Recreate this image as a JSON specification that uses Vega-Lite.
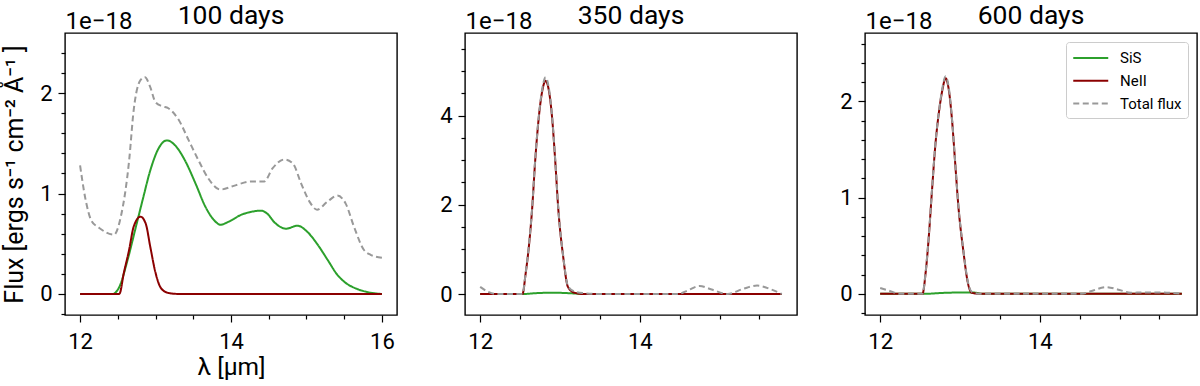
{
  "$schema": "https://vega.github.io/schema/vega-lite/v6.json",
  "background": "white",
  "padding": {"left": 1, "top": 1, "right": 0, "bottom": 0},
  "config": {
    "font": "Roboto",
    "view": {"stroke": "black", "strokeWidth": 1.4},
    "axis": {
      "labelFont": "Roboto", "labelFontSize": 22, "labelColor": "black",
      "titleFont": "Roboto", "titleFontSize": 24.5, "titleFontWeight": "normal", "titleColor": "black",
      "domain": false, "grid": false, "tickColor": "black", "tickWidth": 1.2,
      "labelFlush": false, "labelOverlap": false
    },
    "title": {"font": "Roboto", "fontSize": 26.5, "fontWeight": "normal", "color": "black"}
  },
  "datasets": {
    "spec": [
      {"panel": "100", "series": "SiS", "wl": 12, "flux": 0},
      {"panel": "100", "series": "SiS", "wl": 12.2, "flux": 0},
      {"panel": "100", "series": "SiS", "wl": 12.43, "flux": 0},
      {"panel": "100", "series": "SiS", "wl": 12.52, "flux": 0.07},
      {"panel": "100", "series": "SiS", "wl": 12.63, "flux": 0.34},
      {"panel": "100", "series": "SiS", "wl": 12.74, "flux": 0.67},
      {"panel": "100", "series": "SiS", "wl": 12.83, "flux": 0.94},
      {"panel": "100", "series": "SiS", "wl": 12.93, "flux": 1.23},
      {"panel": "100", "series": "SiS", "wl": 13.04, "flux": 1.45},
      {"panel": "100", "series": "SiS", "wl": 13.15, "flux": 1.53},
      {"panel": "100", "series": "SiS", "wl": 13.26, "flux": 1.48},
      {"panel": "100", "series": "SiS", "wl": 13.39, "flux": 1.33},
      {"panel": "100", "series": "SiS", "wl": 13.53, "flux": 1.10},
      {"panel": "100", "series": "SiS", "wl": 13.66, "flux": 0.87},
      {"panel": "100", "series": "SiS", "wl": 13.77, "flux": 0.74},
      {"panel": "100", "series": "SiS", "wl": 13.86, "flux": 0.69},
      {"panel": "100", "series": "SiS", "wl": 13.97, "flux": 0.72},
      {"panel": "100", "series": "SiS", "wl": 14.14, "flux": 0.79},
      {"panel": "100", "series": "SiS", "wl": 14.28, "flux": 0.82},
      {"panel": "100", "series": "SiS", "wl": 14.4, "flux": 0.83},
      {"panel": "100", "series": "SiS", "wl": 14.48, "flux": 0.80},
      {"panel": "100", "series": "SiS", "wl": 14.58, "flux": 0.71},
      {"panel": "100", "series": "SiS", "wl": 14.73, "flux": 0.65},
      {"panel": "100", "series": "SiS", "wl": 14.88, "flux": 0.68},
      {"panel": "100", "series": "SiS", "wl": 15.01, "flux": 0.62},
      {"panel": "100", "series": "SiS", "wl": 15.14, "flux": 0.50},
      {"panel": "100", "series": "SiS", "wl": 15.28, "flux": 0.34},
      {"panel": "100", "series": "SiS", "wl": 15.41, "flux": 0.19},
      {"panel": "100", "series": "SiS", "wl": 15.52, "flux": 0.11},
      {"panel": "100", "series": "SiS", "wl": 15.67, "flux": 0.05},
      {"panel": "100", "series": "SiS", "wl": 15.8, "flux": 0.02},
      {"panel": "100", "series": "SiS", "wl": 16, "flux": 0},

      {"panel": "100", "series": "NeII", "wl": 12, "flux": 0},
      {"panel": "100", "series": "NeII", "wl": 12.52, "flux": 0},
      {"panel": "100", "series": "NeII", "wl": 12.58, "flux": 0.21},
      {"panel": "100", "series": "NeII", "wl": 12.65, "flux": 0.44},
      {"panel": "100", "series": "NeII", "wl": 12.71, "flux": 0.67},
      {"panel": "100", "series": "NeII", "wl": 12.8, "flux": 0.77},
      {"panel": "100", "series": "NeII", "wl": 12.87, "flux": 0.70},
      {"panel": "100", "series": "NeII", "wl": 12.93, "flux": 0.47},
      {"panel": "100", "series": "NeII", "wl": 13, "flux": 0.21},
      {"panel": "100", "series": "NeII", "wl": 13.07, "flux": 0.06},
      {"panel": "100", "series": "NeII", "wl": 13.17, "flux": 0.01},
      {"panel": "100", "series": "NeII", "wl": 13.3, "flux": 0},
      {"panel": "100", "series": "NeII", "wl": 16, "flux": 0},

      {"panel": "100", "series": "Total flux", "wl": 12, "flux": 1.28},
      {"panel": "100", "series": "Total flux", "wl": 12.07, "flux": 0.95},
      {"panel": "100", "series": "Total flux", "wl": 12.15, "flux": 0.73},
      {"panel": "100", "series": "Total flux", "wl": 12.25, "flux": 0.66},
      {"panel": "100", "series": "Total flux", "wl": 12.45, "flux": 0.59},
      {"panel": "100", "series": "Total flux", "wl": 12.54, "flux": 0.77},
      {"panel": "100", "series": "Total flux", "wl": 12.65, "flux": 1.33},
      {"panel": "100", "series": "Total flux", "wl": 12.71, "flux": 1.83},
      {"panel": "100", "series": "Total flux", "wl": 12.8, "flux": 2.13},
      {"panel": "100", "series": "Total flux", "wl": 12.86, "flux": 2.16},
      {"panel": "100", "series": "Total flux", "wl": 12.93, "flux": 2.06},
      {"panel": "100", "series": "Total flux", "wl": 13, "flux": 1.91},
      {"panel": "100", "series": "Total flux", "wl": 13.09, "flux": 1.87},
      {"panel": "100", "series": "Total flux", "wl": 13.17, "flux": 1.85},
      {"panel": "100", "series": "Total flux", "wl": 13.31, "flux": 1.73},
      {"panel": "100", "series": "Total flux", "wl": 13.44, "flux": 1.53},
      {"panel": "100", "series": "Total flux", "wl": 13.57, "flux": 1.33},
      {"panel": "100", "series": "Total flux", "wl": 13.7, "flux": 1.15},
      {"panel": "100", "series": "Total flux", "wl": 13.86, "flux": 1.04},
      {"panel": "100", "series": "Total flux", "wl": 14.01, "flux": 1.07},
      {"panel": "100", "series": "Total flux", "wl": 14.09, "flux": 1.09},
      {"panel": "100", "series": "Total flux", "wl": 14.27, "flux": 1.12},
      {"panel": "100", "series": "Total flux", "wl": 14.44, "flux": 1.12},
      {"panel": "100", "series": "Total flux", "wl": 14.55, "flux": 1.25},
      {"panel": "100", "series": "Total flux", "wl": 14.71, "flux": 1.34},
      {"panel": "100", "series": "Total flux", "wl": 14.82, "flux": 1.30},
      {"panel": "100", "series": "Total flux", "wl": 14.93, "flux": 1.10},
      {"panel": "100", "series": "Total flux", "wl": 15.04, "flux": 0.92},
      {"panel": "100", "series": "Total flux", "wl": 15.14, "flux": 0.84},
      {"panel": "100", "series": "Total flux", "wl": 15.28, "flux": 0.92},
      {"panel": "100", "series": "Total flux", "wl": 15.41, "flux": 0.98},
      {"panel": "100", "series": "Total flux", "wl": 15.52, "flux": 0.90},
      {"panel": "100", "series": "Total flux", "wl": 15.63, "flux": 0.67},
      {"panel": "100", "series": "Total flux", "wl": 15.76, "flux": 0.44},
      {"panel": "100", "series": "Total flux", "wl": 15.85, "flux": 0.39},
      {"panel": "100", "series": "Total flux", "wl": 16, "flux": 0.36},

      {"panel": "350", "series": "SiS", "wl": 12, "flux": 0},
      {"panel": "350", "series": "SiS", "wl": 12.53, "flux": 0},
      {"panel": "350", "series": "SiS", "wl": 12.7, "flux": 0.02},
      {"panel": "350", "series": "SiS", "wl": 12.9, "flux": 0.03},
      {"panel": "350", "series": "SiS", "wl": 13.1, "flux": 0.02},
      {"panel": "350", "series": "SiS", "wl": 13.25, "flux": 0.005},
      {"panel": "350", "series": "SiS", "wl": 13.4, "flux": 0},
      {"panel": "350", "series": "SiS", "wl": 15.78, "flux": 0},

      {"panel": "350", "series": "NeII", "wl": 12, "flux": 0},
      {"panel": "350", "series": "NeII", "wl": 12.53, "flux": 0},
      {"panel": "350", "series": "NeII", "wl": 12.57, "flux": 0.46},
      {"panel": "350", "series": "NeII", "wl": 12.61, "flux": 1.06},
      {"panel": "350", "series": "NeII", "wl": 12.65, "flux": 1.88},
      {"panel": "350", "series": "NeII", "wl": 12.69, "flux": 3.0},
      {"panel": "350", "series": "NeII", "wl": 12.74, "flux": 4.05},
      {"panel": "350", "series": "NeII", "wl": 12.78, "flux": 4.57},
      {"panel": "350", "series": "NeII", "wl": 12.82, "flux": 4.78},
      {"panel": "350", "series": "NeII", "wl": 12.86, "flux": 4.57},
      {"panel": "350", "series": "NeII", "wl": 12.9, "flux": 3.98},
      {"panel": "350", "series": "NeII", "wl": 12.94, "flux": 3.0},
      {"panel": "350", "series": "NeII", "wl": 12.98, "flux": 1.88},
      {"panel": "350", "series": "NeII", "wl": 13.04, "flux": 0.84},
      {"panel": "350", "series": "NeII", "wl": 13.1, "flux": 0.16},
      {"panel": "350", "series": "NeII", "wl": 13.18, "flux": 0.03},
      {"panel": "350", "series": "NeII", "wl": 13.3, "flux": 0},
      {"panel": "350", "series": "NeII", "wl": 15.78, "flux": 0},

      {"panel": "350", "series": "Total flux", "wl": 12, "flux": 0.16},
      {"panel": "350", "series": "Total flux", "wl": 12.1, "flux": 0.05},
      {"panel": "350", "series": "Total flux", "wl": 12.2, "flux": 0},
      {"panel": "350", "series": "Total flux", "wl": 12.53, "flux": 0},
      {"panel": "350", "series": "Total flux", "wl": 12.57, "flux": 0.47},
      {"panel": "350", "series": "Total flux", "wl": 12.61, "flux": 1.08},
      {"panel": "350", "series": "Total flux", "wl": 12.65, "flux": 1.9},
      {"panel": "350", "series": "Total flux", "wl": 12.69, "flux": 3.02},
      {"panel": "350", "series": "Total flux", "wl": 12.74, "flux": 4.08},
      {"panel": "350", "series": "Total flux", "wl": 12.78, "flux": 4.62},
      {"panel": "350", "series": "Total flux", "wl": 12.82, "flux": 4.86},
      {"panel": "350", "series": "Total flux", "wl": 12.86, "flux": 4.62},
      {"panel": "350", "series": "Total flux", "wl": 12.9, "flux": 4.01},
      {"panel": "350", "series": "Total flux", "wl": 12.94, "flux": 3.03},
      {"panel": "350", "series": "Total flux", "wl": 12.98, "flux": 1.9},
      {"panel": "350", "series": "Total flux", "wl": 13.04, "flux": 0.86},
      {"panel": "350", "series": "Total flux", "wl": 13.1, "flux": 0.18},
      {"panel": "350", "series": "Total flux", "wl": 13.18, "flux": 0.06},
      {"panel": "350", "series": "Total flux", "wl": 13.3, "flux": 0.02},
      {"panel": "350", "series": "Total flux", "wl": 13.5, "flux": 0},
      {"panel": "350", "series": "Total flux", "wl": 14.48, "flux": 0},
      {"panel": "350", "series": "Total flux", "wl": 14.6, "flux": 0.08},
      {"panel": "350", "series": "Total flux", "wl": 14.75, "flux": 0.18},
      {"panel": "350", "series": "Total flux", "wl": 14.9, "flux": 0.1},
      {"panel": "350", "series": "Total flux", "wl": 15.1, "flux": 0},
      {"panel": "350", "series": "Total flux", "wl": 15.3, "flux": 0.12},
      {"panel": "350", "series": "Total flux", "wl": 15.47, "flux": 0.19},
      {"panel": "350", "series": "Total flux", "wl": 15.65, "flux": 0.1},
      {"panel": "350", "series": "Total flux", "wl": 15.78, "flux": 0},

      {"panel": "600", "series": "SiS", "wl": 12, "flux": 0},
      {"panel": "600", "series": "SiS", "wl": 12.55, "flux": 0},
      {"panel": "600", "series": "SiS", "wl": 12.8, "flux": 0.01},
      {"panel": "600", "series": "SiS", "wl": 13.15, "flux": 0.015},
      {"panel": "600", "series": "SiS", "wl": 13.3, "flux": 0},
      {"panel": "600", "series": "SiS", "wl": 15.78, "flux": 0},

      {"panel": "600", "series": "NeII", "wl": 12, "flux": 0},
      {"panel": "600", "series": "NeII", "wl": 12.53, "flux": 0},
      {"panel": "600", "series": "NeII", "wl": 12.57, "flux": 0.22},
      {"panel": "600", "series": "NeII", "wl": 12.61, "flux": 0.6},
      {"panel": "600", "series": "NeII", "wl": 12.65, "flux": 1.08},
      {"panel": "600", "series": "NeII", "wl": 12.69, "flux": 1.53},
      {"panel": "600", "series": "NeII", "wl": 12.74, "flux": 1.91},
      {"panel": "600", "series": "NeII", "wl": 12.78, "flux": 2.12},
      {"panel": "600", "series": "NeII", "wl": 12.82, "flux": 2.24},
      {"panel": "600", "series": "NeII", "wl": 12.86, "flux": 2.12},
      {"panel": "600", "series": "NeII", "wl": 12.9, "flux": 1.81},
      {"panel": "600", "series": "NeII", "wl": 12.94, "flux": 1.36},
      {"panel": "600", "series": "NeII", "wl": 12.98, "flux": 0.91},
      {"panel": "600", "series": "NeII", "wl": 13.04, "flux": 0.46},
      {"panel": "600", "series": "NeII", "wl": 13.1, "flux": 0.11},
      {"panel": "600", "series": "NeII", "wl": 13.15, "flux": 0.01},
      {"panel": "600", "series": "NeII", "wl": 13.25, "flux": 0},
      {"panel": "600", "series": "NeII", "wl": 15.78, "flux": 0},

      {"panel": "600", "series": "Total flux", "wl": 12, "flux": 0.06},
      {"panel": "600", "series": "Total flux", "wl": 12.12, "flux": 0.03},
      {"panel": "600", "series": "Total flux", "wl": 12.25, "flux": 0},
      {"panel": "600", "series": "Total flux", "wl": 12.53, "flux": 0},
      {"panel": "600", "series": "Total flux", "wl": 12.57, "flux": 0.23},
      {"panel": "600", "series": "Total flux", "wl": 12.61, "flux": 0.61},
      {"panel": "600", "series": "Total flux", "wl": 12.65, "flux": 1.09},
      {"panel": "600", "series": "Total flux", "wl": 12.69, "flux": 1.54},
      {"panel": "600", "series": "Total flux", "wl": 12.74, "flux": 1.92},
      {"panel": "600", "series": "Total flux", "wl": 12.78, "flux": 2.14},
      {"panel": "600", "series": "Total flux", "wl": 12.82, "flux": 2.26},
      {"panel": "600", "series": "Total flux", "wl": 12.86, "flux": 2.14},
      {"panel": "600", "series": "Total flux", "wl": 12.9, "flux": 1.82},
      {"panel": "600", "series": "Total flux", "wl": 12.94, "flux": 1.37},
      {"panel": "600", "series": "Total flux", "wl": 12.98, "flux": 0.92},
      {"panel": "600", "series": "Total flux", "wl": 13.04, "flux": 0.47},
      {"panel": "600", "series": "Total flux", "wl": 13.1, "flux": 0.12},
      {"panel": "600", "series": "Total flux", "wl": 13.15, "flux": 0.02},
      {"panel": "600", "series": "Total flux", "wl": 13.25, "flux": 0},
      {"panel": "600", "series": "Total flux", "wl": 14.52, "flux": 0},
      {"panel": "600", "series": "Total flux", "wl": 14.65, "flux": 0.03},
      {"panel": "600", "series": "Total flux", "wl": 14.83, "flux": 0.07},
      {"panel": "600", "series": "Total flux", "wl": 15, "flux": 0.04},
      {"panel": "600", "series": "Total flux", "wl": 15.14, "flux": 0.01},
      {"panel": "600", "series": "Total flux", "wl": 15.3, "flux": 0.015},
      {"panel": "600", "series": "Total flux", "wl": 15.47, "flux": 0.015},
      {"panel": "600", "series": "Total flux", "wl": 15.78, "flux": 0}
    ]
  },
  "data": {"name": "spec"},
  "bounds": "flush",
  "spacing": 68,
  "resolve": {
    "scale": {"color": "independent", "strokeDash": "independent"},
    "legend": {"color": "independent", "strokeDash": "independent"}
  },
  "hconcat": [
    {
      "width": 332, "height": 282,
      "title": {"text": "100 days", "anchor": "middle", "frame": "group", "baseline": "alphabetic", "offset": -41},
      "transform": [{"filter": "datum.panel === '100'"}],
      "layer": [
        {
          "mark": {"type": "line", "interpolate": "monotone", "strokeWidth": 2},
          "encoding": {
            "x": {"field": "wl", "type": "quantitative",
              "scale": {"domain": [11.8, 16.2], "nice": false, "zero": false},
              "axis": {"orient": "bottom", "title": "λ [μm]", "format": "~g", "titlePadding": 3, "labelOverlap": false,
                "values": [12, 12.5, 13, 13.5, 14, 14.5, 15, 15.5, 16],
                "tickSize": {"condition": {"test": "datum.value % 2 !== 0", "value": 4}, "value": 7},
                "labelExpr": "datum.value % 2 !== 0 ? '' : datum.label", "labelPadding": 9}},
            "y": {"field": "flux", "type": "quantitative",
              "scale": {"domain": [-0.21, 2.6], "nice": false, "zero": false},
              "axis": {"title": "Flux [ergs s⁻¹ cm⁻² Å⁻¹ ]", "titleFontSize": 25, "format": "~g", "titlePadding": 12, "labelOverlap": false,
                "values": [-0.2, 0, 0.2, 0.4, 0.6, 0.8, 1, 1.2, 1.4, 1.6, 1.8, 2, 2.2, 2.4],
                "tickSize": {"condition": {"test": "datum.value % 1 !== 0", "value": 4}, "value": 7},
                "labelExpr": "datum.value % 1 !== 0 ? '' : datum.label", "labelPadding": 6}},
            "color": {"field": "series", "type": "nominal",
              "scale": {"domain": ["SiS", "NeII", "Total flux"], "range": ["#2ca02c", "#8b0000", "#999999"]}, "legend": null},
            "strokeDash": {"field": "series", "type": "nominal",
              "scale": {"domain": ["SiS", "NeII", "Total flux"], "range": [[1, 0], [1, 0], [6, 3.5]]}, "legend": null}
          }
        },
        {
          "mark": {"type": "rule", "opacity": 0},
          "encoding": {
            "x": {"field": "wl", "type": "quantitative",
              "axis": {"orient": "top", "title": "1e−18", "labels": false, "ticks": false, "domain": false, "titleFontSize": 24,
                "titleAnchor": "start", "titleAlign": "left", "titleBaseline": "alphabetic", "titlePadding": 5, "minExtent": 0}}
          }
        }
      ],
      "resolve": {"axis": {"x": "independent"}}
    },
    {
      "width": 332, "height": 282,
      "title": {"text": "350 days", "anchor": "middle", "frame": "group", "baseline": "alphabetic", "offset": -41},
      "transform": [{"filter": "datum.panel === '350'"}],
      "layer": [
        {
          "mark": {"type": "line", "interpolate": "monotone", "strokeWidth": 2},
          "encoding": {
            "x": {"field": "wl", "type": "quantitative",
              "scale": {"domain": [11.81, 15.97], "nice": false, "zero": false},
              "axis": {"orient": "bottom", "title": null, "format": "~g", "labelOverlap": false,
                "values": [12, 12.5, 13, 13.5, 14, 14.5, 15, 15.5],
                "tickSize": {"condition": {"test": "datum.value % 2 !== 0", "value": 4}, "value": 7},
                "labelExpr": "datum.value % 2 !== 0 ? '' : datum.label", "labelPadding": 9}},
            "y": {"field": "flux", "type": "quantitative",
              "scale": {"domain": [-0.47, 5.85], "nice": false, "zero": false},
              "axis": {"title": null, "format": "~g", "labelOverlap": false,
                "values": [0, 0.5, 1, 1.5, 2, 2.5, 3, 3.5, 4, 4.5, 5, 5.5],
                "tickSize": {"condition": {"test": "datum.value % 2 !== 0", "value": 4}, "value": 7},
                "labelExpr": "datum.value % 2 !== 0 ? '' : datum.label", "labelPadding": 6}},
            "color": {"field": "series", "type": "nominal",
              "scale": {"domain": ["SiS", "NeII", "Total flux"], "range": ["#2ca02c", "#8b0000", "#999999"]}, "legend": null},
            "strokeDash": {"field": "series", "type": "nominal",
              "scale": {"domain": ["SiS", "NeII", "Total flux"], "range": [[1, 0], [1, 0], [6, 3.5]]}, "legend": null}
          }
        },
        {
          "mark": {"type": "rule", "opacity": 0},
          "encoding": {
            "x": {"field": "wl", "type": "quantitative",
              "axis": {"orient": "top", "title": "1e−18", "labels": false, "ticks": false, "domain": false, "titleFontSize": 24,
                "titleAnchor": "start", "titleAlign": "left", "titleBaseline": "alphabetic", "titlePadding": 5, "minExtent": 0}}
          }
        }
      ],
      "resolve": {"axis": {"x": "independent"}}
    },
    {
      "width": 332, "height": 282,
      "title": {"text": "600 days", "anchor": "middle", "frame": "group", "baseline": "alphabetic", "offset": -41},
      "transform": [{"filter": "datum.panel === '600'"}],
      "layer": [
        {
          "mark": {"type": "line", "interpolate": "monotone", "strokeWidth": 2},
          "encoding": {
            "x": {"field": "wl", "type": "quantitative",
              "scale": {"domain": [11.81, 15.97], "nice": false, "zero": false},
              "axis": {"orient": "bottom", "title": null, "format": "~g", "labelOverlap": false,
                "values": [12, 12.5, 13, 13.5, 14, 14.5, 15, 15.5],
                "tickSize": {"condition": {"test": "datum.value % 2 !== 0", "value": 4}, "value": 7},
                "labelExpr": "datum.value % 2 !== 0 ? '' : datum.label", "labelPadding": 9}},
            "y": {"field": "flux", "type": "quantitative",
              "scale": {"domain": [-0.22, 2.71], "nice": false, "zero": false},
              "axis": {"title": null, "format": "~g", "labelOverlap": false,
                "values": [-0.2, 0, 0.2, 0.4, 0.6, 0.8, 1, 1.2, 1.4, 1.6, 1.8, 2, 2.2, 2.4, 2.6],
                "tickSize": {"condition": {"test": "datum.value % 1 !== 0", "value": 4}, "value": 7},
                "labelExpr": "datum.value % 1 !== 0 ? '' : datum.label", "labelPadding": 6}},
            "color": {"field": "series", "type": "nominal",
              "scale": {"domain": ["SiS", "NeII", "Total flux"], "range": ["#2ca02c", "#8b0000", "#999999"]},
              "legend": {"orient": "top-right", "title": null, "offset": 9, "padding": 6, "rowPadding": 4.75,
                "labelFontSize": 15, "labelFont": "Roboto", "labelColor": "black",
                "symbolType": "M-1,0H3", "symbolSize": 306, "symbolStrokeWidth": 2, "labelOffset": 28,
                "strokeColor": "#cccccc", "fillColor": "rgba(255,255,255,0.8)", "cornerRadius": 3}},
            "strokeDash": {"field": "series", "type": "nominal",
              "scale": {"domain": ["SiS", "NeII", "Total flux"], "range": [[1, 0], [1, 0], [6, 3.5]]},
              "legend": {"orient": "top-right", "title": null, "offset": 9, "padding": 6, "rowPadding": 4.75,
                "labelFontSize": 15, "labelFont": "Roboto", "labelColor": "black",
                "symbolType": "M-1,0H3", "symbolSize": 306, "symbolStrokeWidth": 2, "labelOffset": 28,
                "strokeColor": "#cccccc", "fillColor": "rgba(255,255,255,0.8)", "cornerRadius": 3}}
          }
        },
        {
          "mark": {"type": "rule", "opacity": 0},
          "encoding": {
            "x": {"field": "wl", "type": "quantitative",
              "axis": {"orient": "top", "title": "1e−18", "labels": false, "ticks": false, "domain": false, "titleFontSize": 24,
                "titleAnchor": "start", "titleAlign": "left", "titleBaseline": "alphabetic", "titlePadding": 5, "minExtent": 0}}
          }
        }
      ],
      "resolve": {"axis": {"x": "independent"}}
    }
  ]
}
